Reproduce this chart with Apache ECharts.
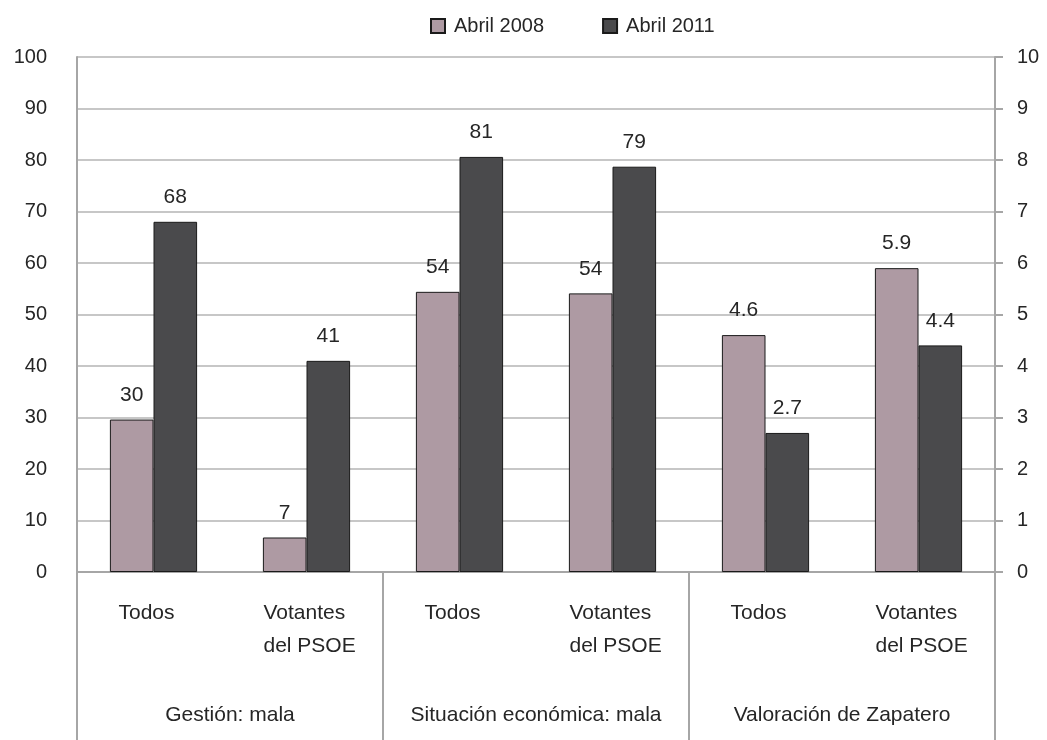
<!DOCTYPE html>
<html>
<head>
<meta charset="utf-8">
<script src="https://cdn.jsdelivr.net/npm/echarts@6/dist/echarts.min.js"></script>
<style>
html,body{margin:0;padding:0;background:#fff;}
#chart{width:1047px;height:740px;}
</style>
</head>
<body>
<div id="chart"></div>
<script>
const categories = ['Todos', 'Votantes\ndel PSOE', 'Todos', 'Votantes\ndel PSOE', 'Todos', 'Votantes\ndel PSOE'];
const groups = ['Gestión: mala', 'Situación económica: mala', 'Valoración de Zapatero'];
const legendNames = ['Abril 2008', 'Abril 2011'];
// percentages (left axis)
const pct2008 = [29.6, 6.7, 54.4, 54.1, null, null];
const pct2011 = [68.0, 41.0, 80.6, 78.7, null, null];
// scores 0-10 (right axis)
const score2008 = [null, null, null, null, 4.6, 5.9];
const score2011 = [null, null, null, null, 2.7, 4.4];
const leftTicks = {min: 0, max: 100, interval: 10};
const rightTicks = {min: 0, max: 10, interval: 1};

const FONT = 'Liberation Sans';
const TXT = '#262626';
const GRAY = '#a6a6a6';
const C2008 = '#ae9aa3';
const C2011 = '#4a4a4c';

function bar(name, data, yIdx, color, stack, fmt) {
  return {
    name: name, type: 'bar', data: data, yAxisIndex: yIdx, xAxisIndex: 0, stack: stack,
    barGap: '0%', barCategoryGap: '43%',
    itemStyle: {color: color, borderColor: '#1a1a1a', borderWidth: 1},
    label: {show: true, position: 'top', distance: 14, fontFamily: FONT, fontSize: 21, color: TXT,
      formatter: p => (p.value == null ? '' : fmt(p.value))},
    emphasis: {disabled: true}
  };
}
const fmtInt = v => String(Math.round(v));
const fmtDec = v => v.toFixed(1);

const richBase = {fontFamily: FONT, fontSize: 21, color: TXT, lineHeight: 33, align: 'left'};

const chart = echarts.init(document.getElementById('chart'), null, {renderer: 'canvas'});
chart.setOption({
  animation: false,
  backgroundColor: '#fff',
  textStyle: {fontFamily: FONT},
  legend: {
    data: legendNames, left: 425, top: 11, itemWidth: 14, itemHeight: 14, itemGap: 58,
    icon: 'rect',
    textStyle: {fontFamily: FONT, fontSize: 20, color: TXT, padding: [0, 0, 0, 4]}
  },
  grid: {left: 77, right: 52, top: 57, bottom: 168, containLabel: false},
  xAxis: [
    {
      type: 'category', data: categories, gridIndex: 0, position: 'bottom', offset: 0,
      axisLine: {show: true, lineStyle: {color: GRAY, width: 2}},
      axisTick: {show: false},
      axisLabel: {
        fontFamily: FONT, fontSize: 21, color: TXT, margin: 25, lineHeight: 33, interval: 0,
        formatter: v => {
          const key = v.indexOf('\n') >= 0 ? 'v' : 't';
          return v.split('\n').map(s => '{' + key + '|' + s + '}').join('\n');
        },
        rich: {
          t: Object.assign({width: 70}, richBase),
          v: Object.assign({width: 86}, richBase)
        }
      }
    },
    {
      type: 'category', data: groups, gridIndex: 0, position: 'bottom', offset: 0,
      axisLine: {show: false},
      axisTick: {show: true, length: 168, interval: 0, lineStyle: {color: GRAY, width: 2}},
      axisLabel: {fontFamily: FONT, fontSize: 21, color: TXT, margin: 133, interval: 0}
    }
  ],
  yAxis: [
    {
      type: 'value', position: 'left', min: leftTicks.min, max: leftTicks.max, interval: leftTicks.interval,
      axisLine: {show: true, lineStyle: {color: GRAY, width: 2}},
      axisTick: {show: false},
      splitLine: {show: true, lineStyle: {color: '#b4b4b4', width: 1.5}},
      axisLabel: {fontFamily: FONT, fontSize: 20, color: TXT, margin: 30}
    },
    {
      type: 'value', position: 'right', min: rightTicks.min, max: rightTicks.max, interval: rightTicks.interval,
      axisLine: {show: true, lineStyle: {color: GRAY, width: 2}},
      axisTick: {show: true, length: 8, lineStyle: {color: GRAY, width: 2}},
      splitLine: {show: false},
      axisLabel: {fontFamily: FONT, fontSize: 20, color: TXT, margin: 22}
    }
  ],
  series: [
    bar(legendNames[0], pct2008, 0, C2008, 's2008', fmtInt),
    bar(legendNames[1], pct2011, 0, C2011, 's2011', fmtInt),
    bar(legendNames[0], score2008, 1, C2008, 's2008', fmtDec),
    bar(legendNames[1], score2011, 1, C2011, 's2011', fmtDec)
  ]
});
</script>
</body>
</html>
